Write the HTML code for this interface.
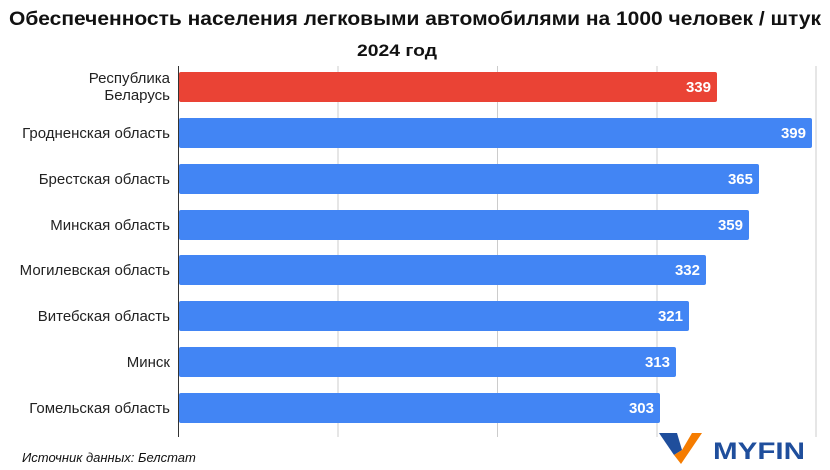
<!DOCTYPE html>
<html><head><meta charset="utf-8"><style>
html,body{margin:0;padding:0;background:#fff;}
svg{display:block;font-family:"Liberation Sans",sans-serif;}
</style></head><body>
<svg width="830" height="470" xmlns="http://www.w3.org/2000/svg">
<rect width="830" height="470" fill="#fff"/>
<text x="9" y="25" font-size="19" font-weight="bold" fill="#111" textLength="812" lengthAdjust="spacingAndGlyphs">Обеспеченность населения легковыми автомобилями на 1000 человек / штук</text>
<text x="357" y="56" font-size="17" font-weight="bold" fill="#111" textLength="80" lengthAdjust="spacingAndGlyphs">2024 год</text>
<g stroke="#cccccc" stroke-width="1">
<line x1="338" y1="66" x2="338" y2="437"/>
<line x1="497.5" y1="66" x2="497.5" y2="437"/>
<line x1="657" y1="66" x2="657" y2="437"/>
<line x1="816" y1="66" x2="816" y2="437"/>
</g>
<g>
<rect x="179" y="72" width="538" height="30" rx="2" fill="#ea4335"/>
<rect x="179" y="118" width="633" height="30" rx="2" fill="#4285f4"/>
<rect x="179" y="164" width="580" height="30" rx="2" fill="#4285f4"/>
<rect x="179" y="210" width="570" height="30" rx="2" fill="#4285f4"/>
<rect x="179" y="255" width="527" height="30" rx="2" fill="#4285f4"/>
<rect x="179" y="301" width="510" height="30" rx="2" fill="#4285f4"/>
<rect x="179" y="347" width="497" height="30" rx="2" fill="#4285f4"/>
<rect x="179" y="393" width="481" height="30" rx="2" fill="#4285f4"/>
</g>
<line x1="178.5" y1="66" x2="178.5" y2="437" stroke="#333" stroke-width="1"/>
<g font-size="15" font-weight="bold" fill="#fff" text-anchor="end">
<text x="711" y="92">339</text>
<text x="806" y="138">399</text>
<text x="753" y="184">365</text>
<text x="743" y="230">359</text>
<text x="700" y="275">332</text>
<text x="683" y="321">321</text>
<text x="670" y="367">313</text>
<text x="654" y="413">303</text>
</g>
<g font-size="15" fill="#222" text-anchor="end">
<text x="170" y="83">Республика</text>
<text x="170" y="100">Беларусь</text>
<text x="170" y="138">Гродненская область</text>
<text x="170" y="184">Брестская область</text>
<text x="170" y="230">Минская область</text>
<text x="170" y="275">Могилевская область</text>
<text x="170" y="321">Витебская область</text>
<text x="170" y="367">Минск</text>
<text x="170" y="413">Гомельская область</text>
</g>
<text x="22" y="462" font-size="13" font-style="italic" fill="#111">Источник данных: Белстат</text>
<polygon points="659,433 677,433 682,450 674,455" fill="#1f4e9c"/>
<polygon points="674,455 682,450 692,433 702,433 681,464" fill="#f57c00"/>
<text x="713" y="459" font-size="24" font-weight="bold" fill="#1f4e9c" textLength="92" lengthAdjust="spacingAndGlyphs">MYFIN</text>
</svg>
</body></html>
